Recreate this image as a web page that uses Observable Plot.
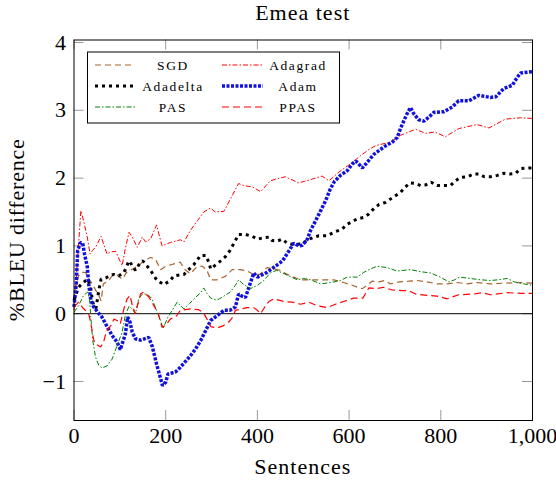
<!DOCTYPE html>
<html>
<head>
<meta charset="utf-8">
<script src="https://cdn.jsdelivr.net/npm/d3@7"></script>
<script src="https://cdn.jsdelivr.net/npm/@observablehq/plot@0.6"></script>
<style>
  body { margin: 0; background: #fff; }
  #chart svg { display: block; }
</style>
</head>
<body>
<div id="chart"></div>
<script>
// valores (x = sentences, y = %BLEU difference)
const sgdX = [0,3,10,18,25,32,40,47,54,59,64,76,83,92,105,116,128,141,152,167,178,189,200,232,240,254,269,280,290,298,312,330,345,362,378,392,405,421,436,450,465,479,494,520,545,567,588,607,618,629,639,650,665,677,690,710,730,748,770,792,814,836,858,879,908,937,974,1000]
const sgdY = [0.2,0.39,0.56,0.61,0.61,0.51,0.44,0.35,0.27,0.19,0.44,0.49,0.56,0.58,0.51,0.62,0.66,0.71,0.78,0.83,0.8,0.65,0.7,0.76,0.66,0.59,0.7,0.7,0.64,0.5,0.5,0.55,0.65,0.65,0.63,0.58,0.58,0.68,0.66,0.64,0.58,0.54,0.5,0.5,0.5,0.5,0.46,0.42,0.39,0.37,0.42,0.48,0.47,0.49,0.44,0.47,0.48,0.49,0.47,0.44,0.44,0.46,0.44,0.46,0.44,0.45,0.46,0.45]

const adagradX = [0,15,21,29,35,40,47,59,72,80,91,100,105,112,120,127,138,149,156,167,180,192,210,232,240,254,269,283,298,308,327,341,359,370,389,407,428,443,461,490,512,541,556,578,603,625,643,658,690,712,745,767,787,810,839,879,905,941,974,1000]
const adagradY = [0.05,1.52,1.37,1.13,0.88,0.93,0.98,1.14,0.88,0.91,0.92,0.78,0.71,0.96,1.2,1.13,0.98,1.13,1.06,1.1,1.31,1.0,1.05,1.09,1.06,1.23,1.37,1.5,1.56,1.5,1.51,1.69,1.92,1.89,1.87,1.8,1.96,1.99,2.02,1.93,1.97,2.03,1.96,2.09,2.21,2.33,2.42,2.48,2.53,2.63,2.72,2.66,2.68,2.61,2.73,2.79,2.74,2.87,2.89,2.88]

const adadeltaX = [0,10,20,30,36,40,43,48,54,59,70,78,87,98,109,120,134,145,150,167,181,196,210,218,240,250,261,276,287,294,298,309,320,330,340,352,359,374,389,401,413,425,432,443,454,465,479,498,512,534,552,570,585,596,607,618,632,643,654,665,679,690,701,712,723,732,745,756,767,779,792,807,821,832,843,858,872,883,895,908,923,937,950,963,974,992,1000]
const adadeltaY = [0.2,0.39,0.46,0.51,0.4,0.2,0.12,0.08,0.34,0.51,0.53,0.56,0.58,0.56,0.61,0.78,0.64,0.76,0.78,0.64,0.49,0.43,0.49,0.56,0.58,0.65,0.72,0.86,0.86,0.76,0.66,0.72,0.78,0.84,0.93,1.08,1.17,1.17,1.14,1.1,1.12,1.13,1.08,1.07,1.1,1.04,1.02,1.03,1.1,1.15,1.15,1.21,1.25,1.32,1.36,1.4,1.42,1.47,1.55,1.61,1.64,1.69,1.74,1.79,1.87,1.93,1.92,1.89,1.9,1.94,1.89,1.89,1.89,1.96,2.01,2.02,2.06,2.06,2.02,2.02,2.04,2.07,2.06,2.07,2.14,2.15,2.15]

const adamX = [0,5,8,14,19,23,29,32,37,43,51,61,69,83,94,101,112,117,122,127,134,145,163,171,180,187,193,200,205,221,232,254,265,276,287,298,312,327,340,352,359,366,374,385,392,400,421,439,455,471,479,490,498,509,516,527,538,549,559,568,581,596,607,615,622,629,639,654,676,694,705,712,721,728,734,741,752,763,774,785,807,825,839,861,883,908,920,937,956,967,974,1000]
const adamY = [0.1,0.44,0.93,1.05,1.04,0.88,0.69,0.44,0.19,0.1,0.03,-0.05,-0.15,-0.32,-0.42,-0.53,-0.3,-0.05,-0.12,-0.27,-0.37,-0.39,-0.35,-0.49,-0.74,-0.91,-1.06,-1.01,-0.89,-0.86,-0.79,-0.62,-0.52,-0.4,-0.25,-0.1,-0.03,0.05,0.05,0.1,0.29,0.26,0.24,0.46,0.6,0.54,0.61,0.7,0.78,0.95,1.04,1.0,1.01,1.1,1.23,1.37,1.52,1.67,1.84,1.95,2.04,2.11,2.21,2.25,2.2,2.15,2.23,2.35,2.46,2.53,2.6,2.73,2.87,2.97,3.04,2.95,2.86,2.84,2.9,2.97,2.98,3.05,3.14,3.14,3.22,3.19,3.2,3.32,3.37,3.49,3.55,3.57]

const pasX = [0,10,21,30,34,37,41,47,54,61,72,83,94,105,112,120,127,134,141,149,160,170,180,189,194,205,214,225,232,240,252,265,276,283,290,298,312,327,341,352,359,370,385,400,414,428,442,455,468,487,500,516,538,560,581,596,618,632,647,661,683,705,734,756,778,799,817,830,841,864,887,908,925,945,960,981,1000]
const pasY = [0.02,0.12,0.27,0.32,0.2,-0.08,-0.4,-0.64,-0.76,-0.8,-0.77,-0.67,-0.47,-0.27,-0.02,0.11,0.07,0.0,0.22,0.29,0.29,0.22,0.05,-0.1,-0.22,-0.05,0.05,0.17,0.12,0.07,0.15,0.24,0.31,0.38,0.3,0.23,0.2,0.26,0.32,0.42,0.5,0.43,0.37,0.42,0.49,0.6,0.64,0.6,0.56,0.5,0.52,0.5,0.44,0.46,0.49,0.54,0.54,0.61,0.66,0.7,0.68,0.63,0.65,0.62,0.6,0.54,0.47,0.5,0.54,0.52,0.5,0.49,0.5,0.52,0.47,0.44,0.42]

const ppasX = [0,10,20,32,37,42,45,58,64,71,80,87,94,101,109,116,122,128,134,145,152,163,174,183,192,200,210,224,232,254,272,283,290,298,312,325,338,345,352,378,392,400,407,418,425,436,458,476,494,512,530,552,570,588,610,630,643,660,676,694,716,730,745,770,792,814,839,872,890,908,945,974,1000]
const ppasY = [0.1,0.17,0.08,0.0,-0.15,-0.35,-0.44,-0.49,-0.43,-0.25,-0.18,-0.08,-0.1,-0.15,0.08,0.22,0.27,0.1,0.0,0.29,0.32,0.25,0.12,0.02,-0.2,-0.17,-0.08,-0.03,0.05,0.07,0.06,0.01,-0.08,-0.19,-0.21,-0.18,-0.12,-0.06,0.05,0.09,0.09,0.05,0.0,0.12,0.18,0.22,0.18,0.17,0.14,0.17,0.12,0.09,0.14,0.18,0.23,0.23,0.38,0.37,0.39,0.35,0.34,0.34,0.29,0.27,0.26,0.22,0.28,0.29,0.31,0.28,0.31,0.3,0.3]

const xTicks = [0, 200, 400, 600, 800, 1000]
const yTicks = [-1, 0, 1, 2, 3, 4]

const W = 556, H = 480
const mL = 73.5, mR = 24, mT = 39.5, mB = 60
const innerW = W - mL - mR
const innerH = H - mT - mB
const tickLen = 10

const pts = (xs, ys) => xs.map((x, i) => [x, ys[i]])

const series = [
  { name: 'SGD',      data: pts(sgdX, sgdY),           stroke: '#a8642e', width: 1.2, dash: '6,4' },
  { name: 'Adagrad',  data: pts(adagradX, adagradY),   stroke: '#ff0000', width: 1,   dash: '5,2,1.5,2' },
  { name: 'Adadelta', data: pts(adadeltaX, adadeltaY), stroke: '#000000', width: 3,   dash: '3,4' },
  { name: 'Adam',     data: pts(adamX, adamY),         stroke: '#1010e0', width: 3.5, dash: '3,1.5' },
  { name: 'PAS',      data: pts(pasX, pasY),           stroke: '#008000', width: 1,   dash: '5,2,1.5,2' },
  { name: 'PPAS',     data: pts(ppasX, ppasY),         stroke: '#ff0000', width: 1.2, dash: '7,4' },
]

let chart = Plot.plot({
  width: W,
  height: H,
  marginLeft: mL,
  marginRight: mR,
  marginTop: mT,
  marginBottom: mB,
  style: { fontFamily: '"Liberation Serif", serif', fontSize: '22px', background: 'white' },
  x: { domain: [0, 1000] },
  y: { domain: [-1.575, 4.037] },
  marks: [
    Plot.axisX(xTicks, { tickSize: 0, tickPadding: 7, tickFormat: d3.format(','), label: null, fontSize: 22 }),
    Plot.axisY(yTicks, { tickSize: 0, tickPadding: 8, tickFormat: d3.format('d'), label: null, fontSize: 22 }),
    // ticks hacia adentro, estilo pgfplots
    Plot.ruleX(xTicks, { stroke: '#999', insetTop: innerH - tickLen }),
    Plot.ruleX(xTicks, { stroke: '#999', insetBottom: innerH - tickLen }),
    Plot.ruleY(yTicks, { stroke: '#999', insetRight: innerW - tickLen }),
    Plot.ruleY(yTicks, { stroke: '#999', insetLeft: innerW - tickLen }),
    Plot.ruleY([0], { stroke: 'black', strokeWidth: 1 }),
    ...series.map(s => Plot.line(s.data, {
      stroke: s.stroke,
      strokeWidth: s.width,
      strokeDasharray: s.dash,
      strokeLinecap: 'butt',
      strokeLinejoin: 'miter'
    })),
    Plot.frame({ stroke: 'black', strokeWidth: 1 })
  ]
})

const svg = d3.select(chart)
const cx = mL + innerW / 2
const serif = '"Liberation Serif", serif'

svg.append('text')
  .attr('x', cx).attr('y', 20)
  .attr('text-anchor', 'middle')
  .style('font-family', serif)
  .style('font-size', '22px').style('letter-spacing', '1px')
  .text('Emea test')

svg.append('text')
  .attr('x', cx).attr('y', 474)
  .attr('text-anchor', 'middle')
  .style('font-family', serif)
  .style('font-size', '22px').style('letter-spacing', '1px')
  .text('Sentences')

svg.append('text')
  .attr('transform', `translate(24,${mT + innerH / 2}) rotate(-90)`)
  .attr('text-anchor', 'middle')
  .style('font-family', serif)
  .style('font-size', '22px').style('letter-spacing', '0.8px')
  .text('%BLEU difference')

// leyenda (2 columnas)
const leg = svg.append('g')
leg.append('rect')
  .attr('x', 87.5).attr('y', 52).attr('width', 252).attr('height', 71)
  .attr('fill', 'white').attr('stroke', 'black').attr('stroke-width', 1)

const cols = [{ x1: 95, x2: 135, tx: 173 }, { x1: 222, x2: 263, tx: 298 }]
const rows = [65, 86, 107]
series.forEach((s, i) => {
  const c = cols[i % 2], r = rows[Math.floor(i / 2)]
  leg.append('line')
    .attr('x1', c.x1).attr('x2', c.x2).attr('y1', r).attr('y2', r)
    .attr('stroke', s.stroke).attr('stroke-width', s.width)
    .attr('stroke-dasharray', s.dash)
  leg.append('text')
    .attr('x', c.tx).attr('y', r + 4.5)
    .attr('text-anchor', 'middle')
    .style('font-family', serif)
    .style('font-size', '13.5px')
    .style('letter-spacing', '1.6px')
    .text(s.name)
})

d3.select('#chart').append(() => chart)
</script>
</body>
</html>
